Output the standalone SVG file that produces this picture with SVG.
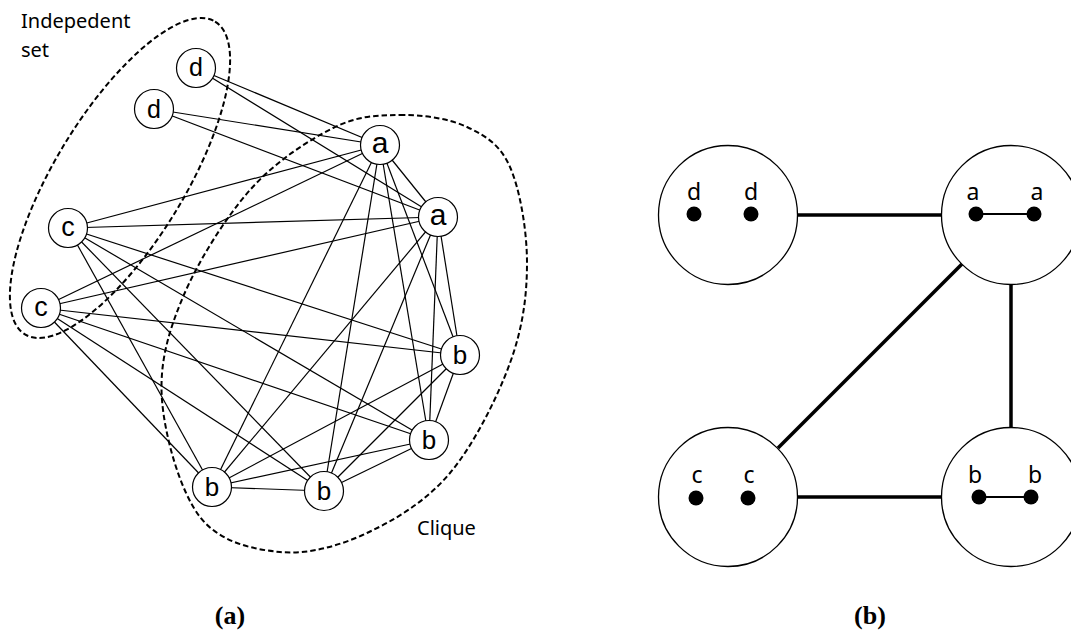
<svg xmlns="http://www.w3.org/2000/svg" width="1071" height="635" viewBox="0 0 1071 635">
<style>
.e{stroke:#000;stroke-width:1.2;fill:none}
.n circle{fill:#fff;stroke:#000;stroke-width:1.2}
.n text{font-family:"Liberation Sans",Arial,sans-serif;text-anchor:middle;fill:#000}
.dash{fill:none;stroke:#000;stroke-width:2;stroke-dasharray:5.5 3}
.lbl{font-family:"Noto Sans","Open Sans",sans-serif;font-size:20px;fill:#000}
.big circle.g{fill:#fff;stroke:#000;stroke-width:1.3}
.big text{font-family:"Noto Sans","Open Sans",sans-serif;font-size:23px;text-anchor:middle;fill:#000}
.thick{stroke:#000;stroke-width:3.5;fill:none}
.cap{font-family:"Liberation Serif","Times New Roman",serif;font-weight:bold;font-size:26px;text-anchor:middle;fill:#000}
</style>
<rect width="1071" height="635" fill="#fff"/>
<!-- dashed regions -->
<ellipse class="dash" cx="120" cy="178" rx="183" ry="65" transform="rotate(-58.7 120 178)"/>
<path class="dash" d="M400,115 C422.3,114.8 448.7,118.3 467,127 C485.3,135.7 500,144.3 510,167 C520,189.7 527,230.3 527,263 C527,295.7 522.8,328 510,363 C497.2,398 473.8,444.7 450,473 C426.2,501.3 395.3,519.8 367,533 C338.7,546.2 307.8,554.7 280,552 C252.2,549.3 219.7,542.3 200,517 C180.3,491.7 164.8,436.7 162,400 C159.2,363.3 168.3,332 183,297 C197.7,262 225,218.2 250,190 C275,161.8 308,140.5 333,128 C358,115.5 377.7,115.2 400,115 Z"/>
<text class="lbl" x="21" y="28">Indepedent</text>
<text class="lbl" x="21" y="57">set</text>
<text class="lbl" x="417" y="535">Clique</text>
<!-- connectors (a) -->
<g id="edges-a">
<line class="e" x1="196" y1="68" x2="380" y2="145"/>
<line class="e" x1="196" y1="68" x2="438" y2="217"/>
<line class="e" x1="154" y1="109" x2="380" y2="145"/>
<line class="e" x1="154" y1="109" x2="438" y2="217"/>
<line class="e" x1="68" y1="228" x2="380" y2="145"/>
<line class="e" x1="68" y1="228" x2="438" y2="217"/>
<line class="e" x1="68" y1="228" x2="460" y2="355"/>
<line class="e" x1="68" y1="228" x2="429" y2="440"/>
<line class="e" x1="68" y1="228" x2="324" y2="491"/>
<line class="e" x1="68" y1="228" x2="212" y2="487"/>
<line class="e" x1="41" y1="308" x2="380" y2="145"/>
<line class="e" x1="41" y1="308" x2="438" y2="217"/>
<line class="e" x1="41" y1="308" x2="460" y2="355"/>
<line class="e" x1="41" y1="308" x2="429" y2="440"/>
<line class="e" x1="41" y1="308" x2="324" y2="491"/>
<line class="e" x1="41" y1="308" x2="212" y2="487"/>
<line class="e" x1="380" y1="145" x2="438" y2="217"/>
<line class="e" x1="380" y1="145" x2="460" y2="355"/>
<line class="e" x1="380" y1="145" x2="429" y2="440"/>
<line class="e" x1="380" y1="145" x2="324" y2="491"/>
<line class="e" x1="380" y1="145" x2="212" y2="487"/>
<line class="e" x1="438" y1="217" x2="460" y2="355"/>
<line class="e" x1="438" y1="217" x2="429" y2="440"/>
<line class="e" x1="438" y1="217" x2="324" y2="491"/>
<line class="e" x1="438" y1="217" x2="212" y2="487"/>
<line class="e" x1="460" y1="355" x2="429" y2="440"/>
<line class="e" x1="460" y1="355" x2="324" y2="491"/>
<line class="e" x1="460" y1="355" x2="212" y2="487"/>
<line class="e" x1="429" y1="440" x2="324" y2="491"/>
<line class="e" x1="429" y1="440" x2="212" y2="487"/>
<line class="e" x1="324" y1="491" x2="212" y2="487"/>
</g>
<!-- nodes (a) -->
<g id="d1" class="n"><circle cx="196" cy="68" r="19.5"/><text x="196" y="76" font-size="25">d</text></g>
<g id="d2" class="n"><circle cx="154" cy="109" r="19.5"/><text x="154" y="118" font-size="25">d</text></g>
<g id="c1" class="n"><circle cx="68" cy="228" r="19.5"/><text x="68" y="236" font-size="27">c</text></g>
<g id="c2" class="n"><circle cx="41" cy="308" r="19.5"/><text x="41" y="316" font-size="27">c</text></g>
<g id="a1" class="n"><circle cx="380" cy="145" r="19.5"/><text x="380" y="153" font-size="30">a</text></g>
<g id="a2" class="n"><circle cx="438" cy="217" r="19.5"/><text x="438" y="225" font-size="30">a</text></g>
<g id="b1" class="n"><circle cx="460" cy="355" r="19.5"/><text x="460" y="364" font-size="26">b</text></g>
<g id="b2" class="n"><circle cx="429" cy="440" r="19.5"/><text x="429" y="449" font-size="26">b</text></g>
<g id="b3" class="n"><circle cx="324" cy="491" r="19.5"/><text x="324" y="500" font-size="26">b</text></g>
<g id="b4" class="n"><circle cx="212" cy="487" r="19.5"/><text x="212" y="496" font-size="26">b</text></g>
<!-- connectors (b) -->
<g id="edges-b">
<line class="thick" x1="798" y1="215" x2="942" y2="215"/>
<line class="thick" x1="798" y1="497" x2="942" y2="497"/>
<line class="thick" x1="1011" y1="284" x2="1011" y2="428"/>
<line class="thick" x1="962" y1="264" x2="778" y2="448"/>
</g>
<!-- nodes (b) -->
<g id="D" class="big"><circle class="g" cx="728" cy="215" r="69.5"/><circle cx="694" cy="214" r="7.5"/><circle cx="751" cy="214" r="7.5"/><text x="694" y="200">d</text><text x="751" y="200">d</text></g>
<g id="A" class="big"><circle class="g" cx="1011" cy="215" r="69.5"/><line x1="976" y1="214" x2="1034" y2="214" stroke="#000" stroke-width="2"/><circle cx="976" cy="214" r="7.5"/><circle cx="1034" cy="214" r="7.5"/><text x="973" y="200">a</text><text x="1037" y="200">a</text></g>
<g id="C" class="big"><circle class="g" cx="728" cy="497" r="69.5"/><circle cx="696" cy="498" r="7.5"/><circle cx="748" cy="498" r="7.5"/><text x="697" y="483">c</text><text x="749" y="483">c</text></g>
<g id="B" class="big"><circle class="g" cx="1011" cy="497" r="69.5"/><line x1="979" y1="497" x2="1031" y2="497" stroke="#000" stroke-width="2"/><circle cx="979" cy="497" r="7.5"/><circle cx="1031" cy="497" r="7.5"/><text x="975" y="483">b</text><text x="1035" y="483">b</text></g>
<text class="cap" x="230" y="624">(a)</text>
<text class="cap" x="870" y="624">(b)</text>
</svg>
